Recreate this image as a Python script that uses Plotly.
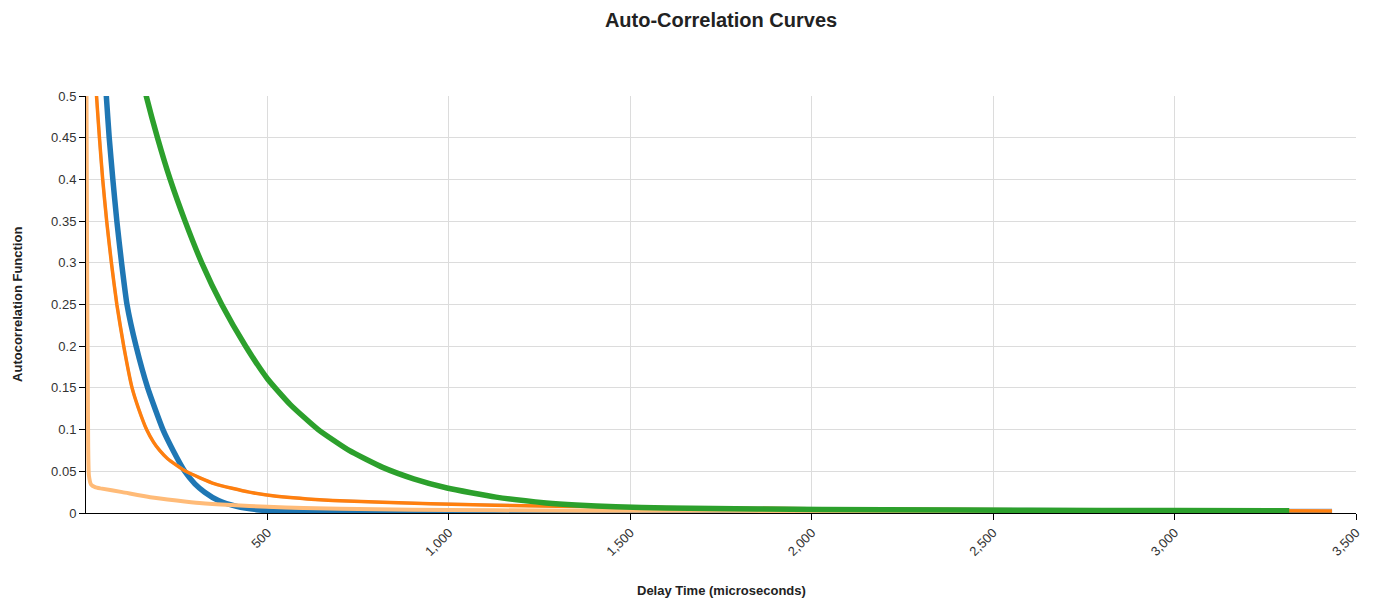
import plotly.graph_objects as go

# ---- data ----
blue_x = [1, 20, 40, 56, 64, 74, 85, 98, 113, 138, 170, 212, 240, 272, 300, 327, 365, 415, 470, 530, 620, 800, 1200, 2000, 3434]
blue_y = [0.95, 0.76, 0.61, 0.5, 0.45, 0.4, 0.35, 0.3, 0.25, 0.2, 0.15, 0.1, 0.075, 0.05, 0.035, 0.025, 0.015, 0.008, 0.004, 0.002, 0.001, 0.0006, 0.0005, 0.0004, 0.0004]

orange_x = [1, 15, 29, 37, 46, 57, 70, 85, 104, 127, 145, 167, 186, 203, 225, 275, 355, 450, 525, 680, 950, 1300, 1700, 2280, 2900, 3434]
orange_y = [0.72, 0.6, 0.5, 0.45, 0.4, 0.35, 0.3, 0.25, 0.2, 0.15, 0.125, 0.1, 0.085, 0.075, 0.065, 0.05, 0.035, 0.025, 0.02, 0.015, 0.011, 0.008, 0.006, 0.0045, 0.0032, 0.0024]

lightblue_x = [1, 15, 29, 37, 46, 57, 70, 85, 104, 127, 145, 167, 186, 203, 225, 275, 355, 450, 525, 680, 950, 1300, 1700, 2280, 2900, 3434]
lightblue_y = [0.72, 0.6, 0.5, 0.45, 0.4, 0.35, 0.3, 0.25, 0.2, 0.15, 0.125, 0.1, 0.085, 0.075, 0.065, 0.05, 0.035, 0.025, 0.02, 0.015, 0.011, 0.0082, 0.0063, 0.0049, 0.004, 0.0036]

lightorange_x = [1, 3, 5, 6, 8, 14, 25, 40, 100, 177, 250, 313, 400, 500, 600, 800, 1000, 1250, 1500, 2000, 2500, 3000]
lightorange_y = [0.55, 0.3, 0.15, 0.08, 0.045, 0.034, 0.031, 0.0295, 0.025, 0.019, 0.015, 0.012, 0.0095, 0.0075, 0.006, 0.0045, 0.0035, 0.003, 0.0027, 0.0025, 0.0024, 0.0023]

green_x = [1, 45, 112, 166, 197, 232, 273, 319, 374, 440, 500, 563, 640, 725, 816, 903, 995, 1130, 1268, 1350, 1460, 1600, 1850, 2200, 2600, 3000, 3316]
green_y = [0.87, 0.75, 0.6, 0.5, 0.45, 0.4, 0.35, 0.3, 0.25, 0.2, 0.161, 0.13, 0.1, 0.075, 0.055, 0.041, 0.03, 0.019, 0.012, 0.0095, 0.0075, 0.006, 0.0048, 0.0038, 0.0032, 0.0029, 0.0027]

x_ticks = [500, 1000, 1500, 2000, 2500, 3000, 3500]
x_tick_labels = ["500", "1,000", "1,500", "2,000", "2,500", "3,000", "3,500"]
y_ticks = [0, 0.05, 0.1, 0.15, 0.2, 0.25, 0.3, 0.35, 0.4, 0.45, 0.5]
y_tick_labels = ["0", "0.05", "0.1", "0.15", "0.2", "0.25", "0.3", "0.35", "0.4", "0.45", "0.5"]

series = [
    ("Series 1", blue_x, blue_y, "#1f77b4", 5.5),
    ("Series 2", lightblue_x, lightblue_y, "#aec7e8", 3),
    ("Series 3", orange_x, orange_y, "#ff7f0e", 3.5),
    ("Series 4", lightorange_x, lightorange_y, "#ffbb78", 4),
    ("Series 5", green_x, green_y, "#2ca02c", 5.5),
]

fig = go.Figure()
for name, xs, ys, color, w in series:
    fig.add_trace(go.Scatter(x=xs, y=ys, mode="lines", name=name,
                             line=dict(color=color, width=w, shape="spline", smoothing=0.5)))

font_family = "Liberation Sans, Arial, sans-serif"
fig.update_layout(
    width=1375, height=601,
    margin=dict(l=86, r=13, t=96, b=88),
    paper_bgcolor="white", plot_bgcolor="white",
    showlegend=False,
    font=dict(family=font_family, size=12, color="#222"),
    title=dict(text="<b>Auto-Correlation Curves</b>", x=0.5, xref="paper", xanchor="center",
               y=0.9667, yanchor="middle", yref="container",
               font=dict(family=font_family, size=20, color="#222")),
    xaxis=dict(range=[0, 3500], tickvals=x_ticks, ticktext=x_tick_labels, tickangle=-45,
               showgrid=True, gridcolor="#dcdcdc", gridwidth=1, zeroline=False,
               showline=True, linecolor="#000", linewidth=1,
               ticks="outside", ticklen=6, tickcolor="#000",
               tickfont=dict(size=13, color="#333")),
    yaxis=dict(range=[0, 0.5], tickvals=y_ticks, ticktext=y_tick_labels,
               showgrid=True, gridcolor="#dcdcdc", gridwidth=1, zeroline=False,
               showline=True, linecolor="#000", linewidth=1,
               ticks="outside", ticklen=6, tickcolor="#000",
               tickfont=dict(size=13, color="#333")),
    annotations=[
        dict(text="<b>Delay Time (microseconds)</b>", xref="paper", yref="paper",
             x=0.5, y=-0.1847, xanchor="center", yanchor="middle",
             showarrow=False, font=dict(family=font_family, size=13, color="#222")),
        dict(text="<b>Autocorrelation Function</b>", xref="paper", yref="paper",
             x=-0.054, y=0.5, xanchor="center", yanchor="middle", textangle=-90,
             showarrow=False, font=dict(family=font_family, size=13, color="#222")),
    ],
)

# remove the default page margin so the 1375x601 figure fills the window exactly
fig.write_html("out.html", config={"displayModeBar": False},
               post_script="document.body.style.margin='0';document.body.style.overflow='hidden';")
